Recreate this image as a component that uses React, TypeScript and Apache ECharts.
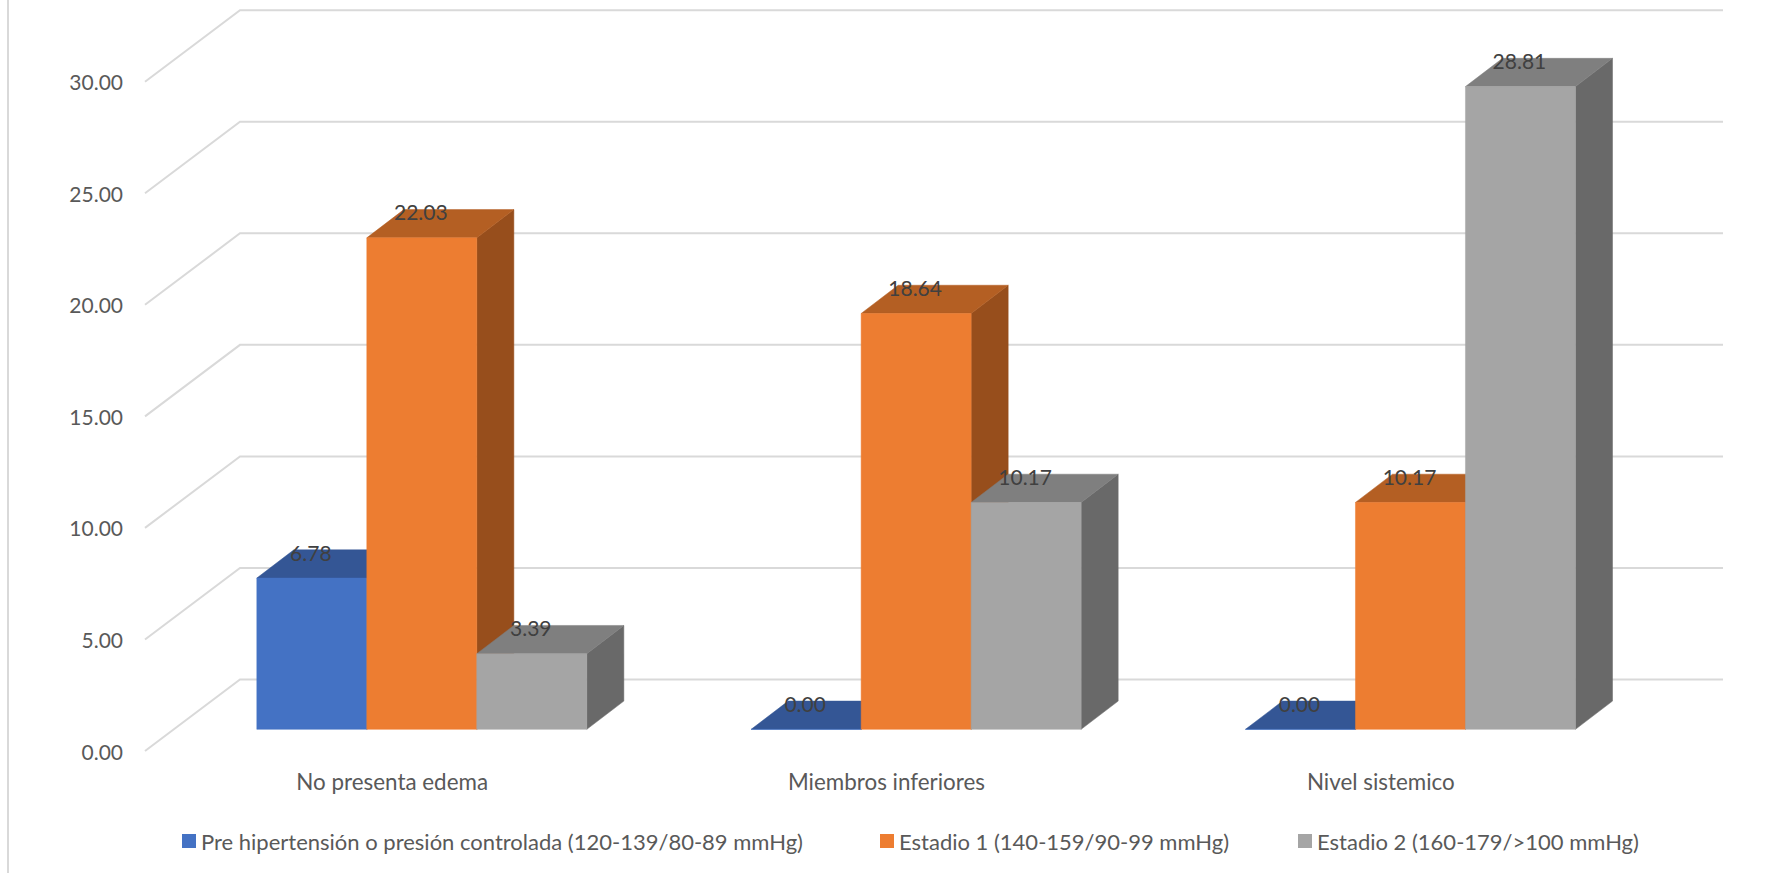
import React, { useEffect, useRef } from "react";
import * as echarts from "echarts";

const categories = ["No presenta edema", "Miembros inferiores", "Nivel sistemico"];
const seriesNames = [
  "Pre hipertensión o presión controlada (120-139/80-89 mmHg)",
  "Estadio 1 (140-159/90-99 mmHg)",
  "Estadio 2 (160-179/>100 mmHg)",
];
const preValues = [6.78, 0.0, 0.0];
const stage1Values = [22.03, 18.64, 10.17];
const stage2Values = [3.39, 10.17, 28.81];
const yTicks = [0, 5, 10, 15, 20, 25, 30];

const FONT = "Lato";
const AXIS_TEXT = "#595959";
const GRID_COLOR = "#d9d9d9";

// Face colours of each cuboid: front, top, right side.
const faces = [
  { front: "#4472c4", top: "#345695", side: "#2f5597" },
  { front: "#ed7d31", top: "#b45f23", side: "#974e1c" },
  { front: "#a5a5a5", top: "#7f7f7f", side: "#696969" },
];

// Oblique projection of the floor: how far the back wall sits from the front plane.
const DEPTH_X = 95;
const DEPTH_Y = 71.5;
// Cuboids stand at this fraction of the floor depth and take up this much of it.
const BAR_INSET_X = 0.312;
const BAR_INSET_Y = 0.303;
const BAR_DEPTH_X = 0.39;
const BAR_DEPTH_Y = 0.395;
const BAR_BAND_RATIO = 0.2225;

const fmt = (v: number) => v.toFixed(2);

const poly = (points: number[][], fill: string) => ({
  type: "polygon",
  shape: { points },
  style: { fill, stroke: fill, lineWidth: 0.5 },
});

function renderWall(params: any, api: any) {
  const y = api.coord([0, api.value(1)])[1];
  const left = params.coordSys.x;
  const right = left + params.coordSys.width;
  return {
    type: "polyline",
    shape: {
      points: [
        [left, y],
        [left + DEPTH_X, y - DEPTH_Y],
        [right + DEPTH_X, y - DEPTH_Y],
      ],
    },
    style: { stroke: GRID_COLOR, lineWidth: 2, fill: "none" },
  };
}

function makeBarRenderer(index: number) {
  const face = faces[index];
  return (_params: any, api: any) => {
    const cat = api.value(0);
    const value = api.value(1);
    const center = api.coord([cat, 0])[0];
    const zeroY = api.coord([cat, 0])[1];
    const topY = api.coord([cat, value])[1];
    const barW = api.size([1, 0])[0] * BAR_BAND_RATIO;

    const x0 = center + DEPTH_X * BAR_INSET_X + (index - 1.5) * barW;
    const x1 = x0 + barW;
    const yb = zeroY - DEPTH_Y * BAR_INSET_Y;
    const yt = topY - DEPTH_Y * BAR_INSET_Y;
    const dx = DEPTH_X * BAR_DEPTH_X;
    const dy = DEPTH_Y * BAR_DEPTH_Y;

    return {
      type: "group",
      children: [
        poly([[x1, yb], [x1 + dx, yb - dy], [x1 + dx, yt - dy], [x1, yt]], face.side),
        poly([[x0, yt], [x1, yt], [x1 + dx, yt - dy], [x0 + dx, yt - dy]], face.top),
        poly([[x0, yb], [x1, yb], [x1, yt], [x0, yt]], face.front),
        {
          type: "text",
          x: (x0 + x1) / 2 - 1,
          y: yt - 26,
          style: {
            text: fmt(value),
            fill: "#404040",
            font: `21px ${FONT}`,
            align: "center",
            verticalAlign: "middle",
          },
        },
      ],
    };
  };
}

const barSeries = [preValues, stage1Values, stage2Values].map((values, i) => ({
  type: "custom",
  name: seriesNames[i],
  coordinateSystem: "cartesian2d",
  renderItem: makeBarRenderer(i),
  encode: { x: 0, y: 1 },
  itemStyle: { color: faces[i].front },
  data: values.map((v, c) => [c, v]),
  z: 3 + i,
  silent: true,
}));

const legendLefts = [177, 875, 1293];

export default function App() {
  const ref = useRef<HTMLDivElement>(null);

  useEffect(() => {
    if (!ref.current) return;
    const chart = echarts.init(ref.current, undefined, { renderer: "svg" });
    chart.setOption({
      animation: false,
      backgroundColor: "#ffffff",
      grid: { left: 145, top: 81.7, width: 1483, height: 669.3, containLabel: false },
      legend: seriesNames.map((name, i) => ({
        data: [name],
        left: legendLefts[i],
        top: 825,
        icon: "rect",
        itemWidth: 14,
        itemHeight: 14,
        itemGap: 0,
        textStyle: { fontFamily: FONT, fontSize: 22, color: AXIS_TEXT },
        selectedMode: false,
      })),
      xAxis: {
        type: "category",
        data: categories,
        axisLine: { show: false },
        axisTick: { show: false },
        axisLabel: { fontFamily: FONT, fontSize: 22.4, color: AXIS_TEXT, margin: 19, interval: 0 },
      },
      yAxis: {
        type: "value",
        min: 0,
        max: 30,
        interval: 5,
        axisLine: { show: false },
        axisTick: { show: false },
        splitLine: { show: false },
        axisLabel: { fontFamily: FONT, fontSize: 21, color: AXIS_TEXT, margin: 22, formatter: fmt },
      },
      graphic: [
        {
          type: "rect",
          shape: { x: 7, y: 0, width: 2, height: 873 },
          style: { fill: GRID_COLOR },
        },
      ],
      series: [
        {
          type: "custom",
          name: "Cuadrícula",
          coordinateSystem: "cartesian2d",
          renderItem: renderWall,
          encode: { x: 0, y: 1 },
          data: yTicks.map((t) => [0, t]),
          z: 1,
          silent: true,
        },
        ...barSeries,
      ],
    });
    return () => chart.dispose();
  }, []);

  return (
    <div
      ref={ref}
      style={{ position: "absolute", left: 0, top: 0, width: 1780, height: 873 }}
    />
  );
}
